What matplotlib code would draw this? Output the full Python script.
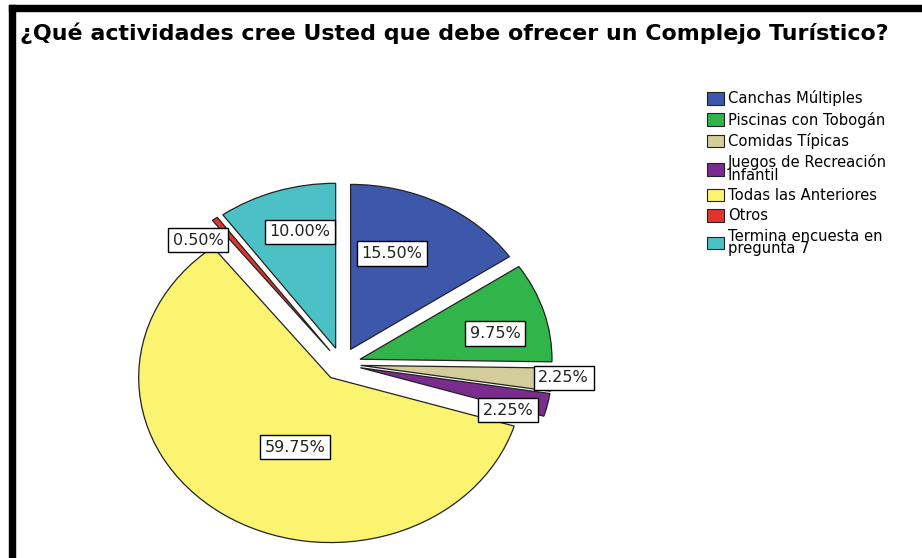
import numpy as np
import matplotlib
matplotlib.use("Agg")
import matplotlib.pyplot as plt
from matplotlib.patches import Rectangle

# data (percent of respondents)
categorias = ["Canchas Múltiples", "Piscinas con Tobogán", "Comidas Típicas",
              "Juegos de Recreación\nInfantil", "Todas las Anteriores", "Otros",
              "Termina encuesta en\npregunta 7"]
porcentajes = [15.50, 9.75, 2.25, 2.25, 59.75, 0.50, 10.00]
colores = ["#3D58AB", "#31B54A", "#D3CD9B", "#7A2D8D", "#FBF470", "#E2342F", "#4BC1C6"]

titulo = "¿Qué actividades cree Usted que debe ofrecer un Complejo Turístico?"

# where each % box sits: radial distance and small angular nudge (deg)
label_dist = [0.72, 0.82, 1.16, 0.91, 0.56, 1.06, 0.83]
label_nudge = [6.6, -3.7, 0.8, -4.8, 8.9, 8.0, -2.8]

fig = plt.figure(figsize=(9.22, 5.58), dpi=100)
fig.patch.set_facecolor("white")

# frame lines like the SPSS output window (top + left only)
fig.patches.append(Rectangle((9 / 922, 0), 6 / 922, 553 / 558, transform=fig.transFigure,
                             color="black", zorder=0))
fig.patches.append(Rectangle((9 / 922, 547 / 558), 913 / 922, 6 / 558, transform=fig.transFigure,
                             color="black", zorder=0))

fig.text(20 / 922, 1 - 33 / 558, titulo, fontsize=15.9, fontweight="bold",
         family="DejaVu Sans", va="center", ha="left")

ax = fig.add_axes([0.0998, -0.0367, 0.5414, 0.7688])
wedges, _ = ax.pie(porcentajes, colors=colores, startangle=90, counterclock=False,
                   explode=[0.1] * len(porcentajes),
                   wedgeprops=dict(edgecolor="#222222", linewidth=0.9))
ax.set_aspect("auto")
ax.set_xlim(-1.3, 1.3)
ax.set_ylim(-1.3, 1.3)
ax.axis("off")

for w, p, d, n in zip(wedges, porcentajes, label_dist, label_nudge):
    ang = np.deg2rad((w.theta1 + w.theta2) / 2 + n)
    ax.text(d * np.cos(ang), d * np.sin(ang), "%.2f%%" % p, ha="center", va="center",
            fontsize=11.5, family="DejaVu Sans", color="#222222", zorder=5,
            bbox=dict(boxstyle="square,pad=0.3", facecolor="white", edgecolor="black", linewidth=1))

leg = fig.legend(wedges, categorias, loc="upper left", bbox_to_anchor=(700 / 922, 1 - 83 / 558),
                 frameon=False, prop=dict(family="DejaVu Sans", size=10.6),
                 handlelength=1.1, handleheight=0.95, handletextpad=0.3,
                 labelspacing=0.36, borderpad=0)
for t in leg.get_texts():
    t.set_linespacing(0.78)
for h in leg.legend_handles:
    h.set_edgecolor("#222222")
    h.set_linewidth(0.8)

fig.savefig("out.png", dpi=100)
